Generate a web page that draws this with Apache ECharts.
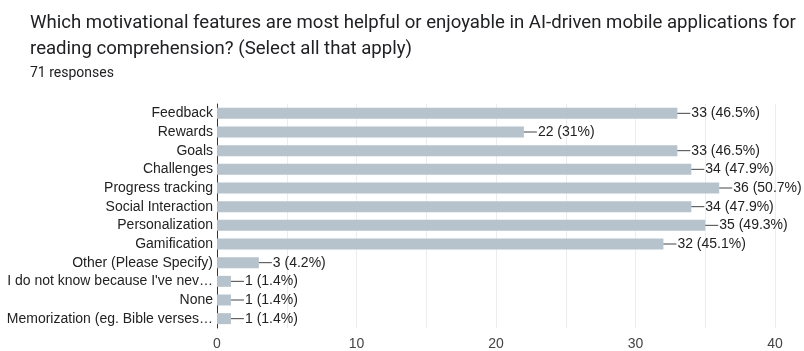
<!DOCTYPE html>
<html><head><meta charset="utf-8">
<script src="https://cdn.jsdelivr.net/npm/echarts@6/dist/echarts.min.js"></script>
<style>html,body{margin:0;padding:0;background:#fff}#c{width:804px;height:351px}</style>
</head><body><div id="c"></div>
<script>
const categories = ["Feedback","Rewards","Goals","Challenges","Progress tracking","Social Interaction","Personalization","Gamification","Other (Please Specify)","I do not know because I've nev\u2026","None","Memorization (eg. Bible verses\u2026"];
const counts = [33,22,33,34,36,34,35,32,3,1,1,1];
const percents = ["46.5%","31%","46.5%","47.9%","50.7%","47.9%","49.3%","45.1%","4.2%","1.4%","1.4%","1.4%"];
const xTicks = [0,10,20,30,40];

const chart = echarts.init(document.getElementById('c'));
chart.setOption({
  animation:false,
  title:{
    text:"Which motivational features are most helpful or enjoyable in AI-driven mobile applications for\nreading comprehension? (Select all that apply)",
    subtext:"71 responses",
    left:30, top:10, padding:0, itemGap:4,
    textStyle:{fontFamily:'Roboto',fontSize:18.6,fontWeight:'normal',color:'#202124',lineHeight:26},
    subtextStyle:{fontFamily:'Roboto',fontSize:14,color:'#202124'}
  },
  grid:{left:217,right:29,top:104,height:228,containLabel:false},
  xAxis:{
    type:'value',min:xTicks[0],max:xTicks[xTicks.length-1],interval:10,
    axisLine:{show:false},axisTick:{show:false},
    axisLabel:{fontFamily:'Liberation Sans',fontSize:14,color:'#444',margin:9},
    splitLine:{show:true,lineStyle:{color:'#ececec',width:1}},
    minorTick:{show:false,splitNumber:2},
    minorSplitLine:{show:true,lineStyle:{color:'#ececec',width:1}}
  },
  yAxis:{
    type:'category',data:categories,inverse:true,
    axisLine:{show:true,lineStyle:{color:'#333',width:1}},
    axisTick:{show:false},
    axisLabel:{fontFamily:'Liberation Sans',fontSize:14,color:'#222',margin:4}
  },
  series:[{
    type:'bar',data:counts,barWidth:11,
    itemStyle:{color:'#b7c3cc'},
    label:{
      show:true,position:'right',distance:0,
      formatter:(p)=>'{ln|}{t|'+counts[p.dataIndex]+' ('+percents[p.dataIndex]+')}',
      rich:{
        ln:{width:13,height:1,backgroundColor:'#444'},
        t:{fontFamily:'Liberation Sans',fontSize:14,color:'#222',padding:[0,0,0,1]}
      }
    }
  }]
});
</script></body></html>
